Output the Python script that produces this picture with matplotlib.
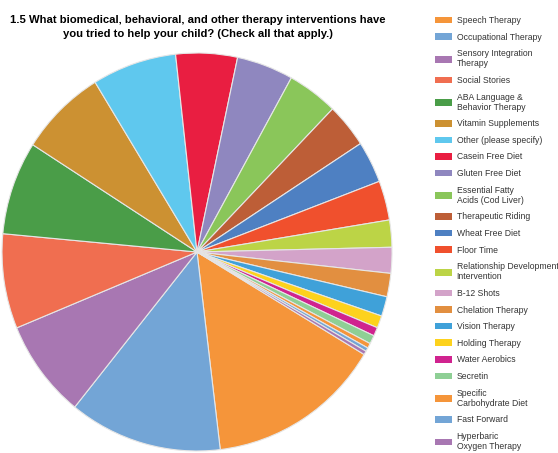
import matplotlib
matplotlib.use("Agg")
import matplotlib.pyplot as plt

plt.rcParams['font.family'] = ['Liberation Sans', 'DejaVu Sans']

title = ("1.5 What biomedical, behavioral, and other therapy interventions have\n"
         "you tried to help your child? (Check all that apply.)")

categories = [
    "Speech Therapy", "Occupational Therapy", "Sensory Integration\nTherapy",
    "Social Stories", "ABA Language &\nBehavior Therapy", "Vitamin Supplements",
    "Other (please specify)", "Casein Free Diet", "Gluten Free Diet",
    "Essential Fatty\nAcids (Cod Liver)", "Therapeutic Riding", "Wheat Free Diet",
    "Floor Time", "Relationship Development\nIntervention", "B-12 Shots",
    "Chelation Therapy", "Vision Therapy", "Holding Therapy", "Water Aerobics",
    "Secretin", "Specific\nCarbohydrate Diet", "Fast Forward",
    "Hyperbaric\nOxygen Therapy",
]

responses = [145, 127, 80, 77, 76, 72, 70, 51, 47, 42, 36, 34, 32,
             22, 21, 19, 16, 10, 7, 7, 4, 3, 3]

colors = [
    "#F5953A", "#73A5D6", "#A877B2", "#F06E50", "#4A9D48", "#CC9132",
    "#5FC8EE", "#E91E41", "#8F87BF", "#8AC65A", "#BD5E37", "#4E80C2",
    "#F0502D", "#BCD446", "#D3A3C9", "#E28F40", "#3FA1D9", "#FDD21D",
    "#D0238F", "#8ECF95", "#F5953A", "#73A5D6", "#A877B2",
]

W, H = 558, 453
fig = plt.figure(figsize=(W / 100, H / 100), dpi=100)

cx, cy, rx, ry = 197, 252, 195, 199
ax = fig.add_axes([(cx - rx) / W, (H - cy - ry) / H, 2 * rx / W, 2 * ry / H])
wedges, _ = ax.pie(responses, colors=colors, startangle=-31, counterclock=False,
                   radius=1.0,
                   wedgeprops=dict(edgecolor="#e6e6e6", linewidth=0.8))
ax.set_xlim(-1, 1)
ax.set_ylim(-1, 1)
ax.set_aspect("auto")
ax.axis("off")
for w in wedges:
    w.set_clip_on(False)

fig.text(198 / W, 1 - 15 / H, title, ha="center", va="top",
         fontsize=8.1, fontweight="bold", linespacing=1.5)

leg = fig.legend(wedges, categories, loc="upper left",
                 bbox_to_anchor=(435 / W, 1 - 16 / H),
                 frameon=False, fontsize=6.2, handlelength=2.0,
                 handleheight=0.8, handletextpad=0.5, labelspacing=0.885,
                 borderpad=0, borderaxespad=0)
for t in leg.get_texts():
    t.set_color("#333333")
    t.set_linespacing(1.15)
for h in leg.legend_handles:
    h.set_edgecolor("none")

fig.savefig("out.png", dpi=100, facecolor="white")
